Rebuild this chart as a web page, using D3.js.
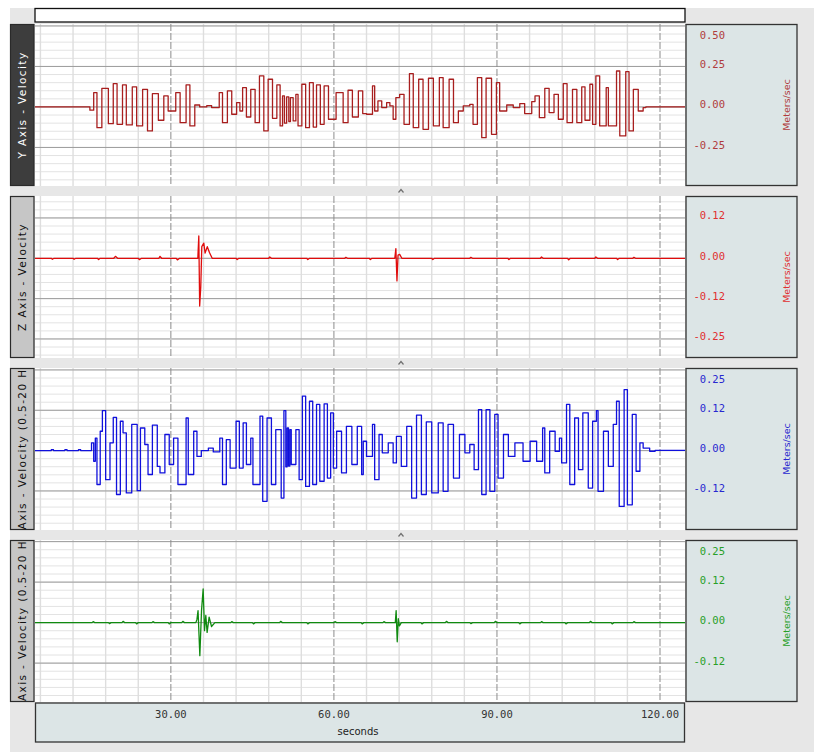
<!DOCTYPE html>
<html>
<head>
<meta charset="utf-8">
<script src="https://cdn.jsdelivr.net/npm/d3@7"></script>
<style>
  body { margin: 0; background: #fff; }
  svg { display: block; }
</style>
</head>
<body>
<svg id="chart" width="814" height="752"></svg>
<script>
// ---- data ----
const timeDomain = [5, 124.6];
const xTicks = [30, 60, 90, 120];
const xTickLabels = ["30.00", "60.00", "90.00", "120.00"];
const xLabel = "seconds";
const unitLabel = "Meters/sec";

const panelTitles = [
  "Y Axis - Velocity",
  "Z Axis - Velocity",
  "Y Axis - Velocity (0.5-20 Hz)",
  "Z Axis - Velocity (0.5-20 Hz)"
];
const panelTicks = [
  [0.5, 0.25, 0, -0.25],
  [0.125, 0, -0.125, -0.25],
  [0.25, 0.125, 0, -0.125],
  [0.25, 0.125, 0, -0.125]
];
const panelTickLabels = [
  ["0.50", "0.25", "0.00", "-0.25"],
  ["0.12", "0.00", "-0.12", "-0.25"],
  ["0.25", "0.12", "0.00", "-0.12"],
  ["0.25", "0.12", "0.00", "-0.12"]
];
const panelDomains = [[-0.488, 0.512], [-0.309, 0.193], [-0.246, 0.256], [-0.245, 0.255]];
const panelMajor = [0.25, 0.125, 0.125, 0.125];

// [seconds, m/s]
const yVelocity = [
  [5,0],[15.1,-0.02],[15.8,0.089],[16.4,-0.128],[17.3,0.115],[18.5,-0.103],[19.4,0.144],[20.1,-0.107],[21.1,0.136],[21.8,-0.111],
  [22.9,0.124],[23.7,-0.117],[24.8,0.109],[25.7,-0.148],[26.6,0.082],[27.7,-0.082],[28.7,0.068],[29.5,-0.025],[30.9,0.089],[31.7,-0.097],
  [32.8,0.136],[33.5,-0.117],[34.4,0.012],[35.3,0],[36.6,0.008],[37.5,-0.004],[38.9,0.089],[39.5,-0.097],[40.4,0.099],[41.2,-0.045],
  [42.1,0.027],[42.7,-0.025],[43.2,0.119],[43.9,-0.062],[44.7,0.109],[45.5,-0.097],[46.3,0.192],[47.1,-0.148],[47.9,0.171],[48.7,-0.070],
  [49.5,0.136],[50.1,-0.117],[50.55,0.068],[50.9,-0.10],[51.3,0.062],[51.7,-0.09],[52.0,0.058],[52.5,-0.086],[53.0,0.078],[53.4,-0.117],
  [54.1,0.140],[54.8,-0.128],[55.5,0.150],[56.2,-0.124],[56.8,0.136],[57.5,-0.107],[58.2,0.130],[59.0,-0.076],[60.4,0.089],[61.7,-0.097],
  [62.6,0.103],[63.4,-0.062],[64.5,0.099],[65.3,-0.041],[66.0,-0.045],[67.1,0.130],[67.5,-0.025],[68.1,0.037],[68.8,-0.004],[69.7,0.027],
  [70.3,0.006],[70.9,-0.076],[71.4,0.058],[72.1,0.078],[72.9,-0.107],[73.9,0.206],[74.6,-0.128],[75.6,0.171],[76.4,-0.138],[77.4,0.177],
  [78.3,-0.117],[79.4,0.181],[80.1,-0.128],[81.2,0.171],[82.0,-0.097],[82.9,-0.025],[83.8,0.006],[85.0,0.016],[85.6,-0.107],[86.4,0.181],
  [87.2,-0.190],[88.0,0.177],[89.0,-0.169],[89.9,0.150],[90.5,-0.025],[91.8,0.012],[93.0,-0.004],[94.2,0.021],[95.1,-0.041],[96.4,0.033],
  [97.0,0.068],[97.8,-0.066],[98.8,0.115],[99.6,-0.035],[100.5,0.078],[101.3,-0.076],[102.2,0.144],[102.9,-0.097],[103.9,0.109],[104.7,-0.097],
  [105.6,0.124],[106.2,-0.082],[107.1,0.140],[107.6,-0.107],[108.2,0.192],[108.9,-0.117],[110.1,0.119],[110.5,-0.117],[112.0,0.222],[112.6,-0.179],
  [113.7,0.218],[114.3,-0.148],[115.1,0.109],[116.0,-0.025],[116.9,-0.004],[117.4,0],[124.6,0]
];

const zVelocity = [
  [5,0],[8,0],[8.2,-0.003],[8.5,0],[12,0],[12.2,-0.003],[12.5,0],[16.5,0],[16.7,-0.004],[17,0],
  [19.5,0],[19.8,0.006],[20.2,0],[24,0],[24.2,-0.004],[24.6,0],[27.8,0],[28,0.006],[28.3,0],[31,0],
  [31.2,-0.005],[31.6,0],[34.96,0],[35.14,0.069],[35.3,-0.148],[35.5,-0.09],[35.69,0.036],[36.06,0.047],[36.3,0.016],[36.7,0.036],
  [37.1,0.018],[37.6,0],[42,0],[42.2,-0.004],[42.5,0],[48,0],[48.2,0.004],[48.5,0],[55,0],[55.2,-0.004],
  [55.5,0],[62,0],[62.2,0.003],[62.5,0],[66.5,0],[66.7,-0.004],[67,0],[71.2,0],[71.4,0.03],[71.6,-0.07],
  [71.8,0.01],[72.1,0.012],[72.5,0],[78,0],[78.2,-0.004],[78.5,0],[85,0],[85.2,0.003],[85.5,0],[92,0],
  [92.2,-0.004],[92.5,0],[98,0],[98.2,0.004],[98.5,0],[103,0],[103.2,-0.005],[103.5,0],[108,0],[108.2,0.004],
  [108.5,0],[112,0],[112.2,-0.004],[112.5,0],[115,0],[115.2,0.003],[115.5,0],[124.6,0]
];

const yFiltered = [
  [5,0],[8.0,0.003],[8.4,0],[10.5,0.003],[10.9,0],[13,0.003],[13.4,0],
  [15.4,0.024],[15.8,-0.033],[16.1,0.039],[16.4,-0.105],[17.0,0.060],[17.4,0.124],[18.0,-0.090],[18.8,0.024],[19.4,0.103],
  [20.0,-0.136],[20.7,0.091],[21.2,0.055],[21.8,-0.131],[22.8,0.081],[23.8,-0.124],[24.4,0.070],[25.2,0.019],[25.8,-0.074],[26.6,0.079],
  [27.5,-0.049],[28.0,-0.069],[28.9,0.050],[29.7,-0.043],[30.5,0.039],[31.3,-0.105],[32.8,0.101],[33.2,-0.074],[34.2,0.060],[34.8,-0.018],
  [35.6,0],[36.9,0.008],[37.8,-0.004],[39.0,0.039],[39.5,-0.105],[40.2,0.034],[40.9,-0.054],[42.0,0.091],[42.6,-0.054],[43.3,0.086],
  [43.9,-0.043],[44.7,0.039],[45.1,-0.105],[46.4,0.107],[46.9,-0.157],[47.7,0.101],[48.5,-0.105],[49.3,0.065],[50.3,-0.147],[50.8,0.124],
  [51.15,-0.05],[51.4,0.07],[51.65,-0.048],[51.9,0.065],[52.15,-0.043],[53.0,0.065],[53.6,-0.090],[54.2,0.169],[54.8,-0.111],[55.5,0.153],
  [56.1,-0.105],[56.8,0.143],[57.4,-0.095],[58.2,0.145],[58.8,-0.085],[59.4,0.117],[59.9,-0.054],[60.5,0.060],[61.4,-0.069],[62.3,0.075],
  [63.3,-0.043],[64.3,0.075],[65.1,-0.074],[65.4,0.029],[66.0,-0.018],[67.1,0.081],[67.5,-0.090],[68.3,0.050],[68.9,-0.007],[70.0,0.024],
  [70.9,-0.038],[71.5,0.044],[72.4,-0.049],[73.4,0.075],[74.3,-0.147],[75.2,0.110],[76.1,-0.136],[77.0,0.089],[78.0,-0.131],[79.2,0.086],
  [80.1,-0.126],[81.0,0.081],[82.0,-0.085],[83.1,0.050],[84.1,-0.007],[85.0,0.019],[85.8,-0.059],[86.6,0.127],[87.2,-0.136],[88.0,0.127],
  [88.7,-0.126],[89.6,0.112],[90.2,-0.085],[91.2,0.050],[92.1,-0.018],[93.3,0.024],[94.8,-0.033],[96.1,0.029],[97.3,-0.033],[98.4,0.070],
  [98.8,-0.069],[99.7,0.060],[100.7,-0.002],[101.5,0.039],[101.9,-0.038],[102.8,0.143],[103.4,-0.105],[104.3,0.101],[105.0,-0.059],[105.8,0.117],
  [106.8,-0.116],[107.6,0.091],[108.3,0.124],[108.6,-0.126],[109.6,0.060],[110.5,-0.049],[111.4,0.081],[112.0,0.153],[112.5,-0.173],[113.4,0.189],
  [114.0,-0.168],[114.9,0.112],[115.6,-0.064],[116.3,0.024],[116.9,0.008],[118.1,-0.002],[119.1,0.001],[124.6,0.001]
];

const zFiltered = [
  [5,0],[15.5,0],[15.7,0.003],[16.0,0],[18.5,0],[18.7,-0.003],[19.0,0],[21,0],[21.2,0.004],[21.5,0],
  [23.5,0],[23.7,-0.004],[24,0],[26.5,0],[26.7,0.003],[27,0],[29.5,0],[29.7,-0.004],[30,0],[32,0],
  [32.2,0.004],[32.5,0],[34.6,0],[34.8,0.01],[35.0,0.037],[35.33,-0.102],[35.64,0.037],[35.94,0.104],[36.19,-0.025],[36.43,0.022],
  [36.67,-0.030],[37.04,0.017],[37.48,-0.012],[38.1,0],[41,0],[41.2,0.003],[41.5,0],[45,0],[45.2,-0.004],[45.5,0],
  [50,0],[50.2,0.004],[50.5,0],[55,0],[55.2,-0.004],[55.5,0],[60,0],[60.2,0.003],[60.5,0],[65,0],
  [65.2,-0.004],[65.5,0],[69,0],[69.2,0.003],[69.5,0],[71.3,0],[71.45,0.037],[71.65,-0.059],[71.85,0.012],[72.05,-0.01],
  [72.4,0],[76,0],[76.2,-0.004],[76.5,0],[80.5,0],[80.7,0.004],[81,0],[85,0],[85.2,-0.003],[85.5,0],
  [89.5,0],[89.7,0.004],[90,0],[94,0],[94.2,-0.004],[94.5,0],[98,0],[98.2,0.003],[98.5,0],[102.5,0],
  [102.7,-0.004],[103,0],[107,0],[107.2,0.004],[107.5,0],[111,0],[111.2,-0.004],[111.5,0],[115,0],[115.2,0.003],
  [115.5,0],[124.6,0]
];

const panelSeries = [yVelocity, zVelocity, yFiltered, zFiltered];

// ---- styling / layout ----
const traceColors = ["#a81e1e", "#e00c0c", "#1010dc", "#108a10"];
const tickColors = ["#b03c3c", "#e03030", "#2828d0", "#28a028"];
const titleBoxFill = ["#3d3d3d", "#c6c6c6", "#c6c6c6", "#c6c6c6"];
const titleTextFill = ["#ffffff", "#111111", "#111111", "#111111"];
// the broadband traces are sample-and-hold looking, the Z ones are spiky
const panelCurves = [d3.curveStepAfter, d3.curveLinear, d3.curveStepAfter, d3.curveLinear];

const width = 814, height = 752;
const plotLeft = 35, plotRight = 685;
const firstTop = 24, panelHeight = 162, panelStep = 172;
const axisBoxX = 686, axisBoxW = 111;
const monoFont = "'DejaVu Sans Mono', 'Liberation Mono', monospace";
const sansFont = "'DejaVu Sans', Verdana, sans-serif";

const svg = d3.select("#chart");
const xScale = d3.scaleLinear().domain(timeDomain).range([plotLeft, plotRight]);

svg.append("rect").attr("width", width).attr("height", height).attr("fill", "#ffffff");
svg.append("rect")
  .attr("x", 10).attr("y", 8)
  .attr("width", width - 10).attr("height", height - 8)
  .attr("fill", "#e7e7e7");

// empty white strip above the traces
svg.append("rect")
  .attr("x", plotLeft).attr("y", 8.5)
  .attr("width", plotRight - plotLeft).attr("height", 13.5)
  .attr("fill", "#fff").attr("stroke", "#111").attr("stroke-width", 1.3);

panelTitles.forEach((title, i) => drawPanel(i));
drawTimeAxis();

function drawPanel(i) {
  const top = firstTop + i * panelStep;
  const bottom = top + panelHeight;
  const domain = panelDomains[i];
  const yScale = d3.scaleLinear().domain(domain).range([bottom, top]);
  const g = svg.append("g");

  g.append("rect")
    .attr("x", plotLeft).attr("y", top)
    .attr("width", plotRight - plotLeft).attr("height", panelHeight)
    .attr("fill", "#fff");

  // minor grid
  const minorStep = panelMajor[i] / 5;
  const hMinor = d3.range(Math.ceil(domain[0] / minorStep), Math.floor(domain[1] / minorStep) + 1)
    .map(k => k * minorStep);
  g.append("g").selectAll("line").data(hMinor).join("line")
    .attr("x1", plotLeft).attr("x2", plotRight)
    .attr("y1", d => yScale(d)).attr("y2", d => yScale(d))
    .attr("stroke", "#e3e3e3").attr("stroke-width", 1);

  const vMinor = d3.range(6, timeDomain[1], 6).filter(t => t % 30 !== 0);
  g.append("g").selectAll("line").data(vMinor).join("line")
    .attr("x1", d => xScale(d)).attr("x2", d => xScale(d))
    .attr("y1", top).attr("y2", bottom)
    .attr("stroke", "#dedede").attr("stroke-width", 1.4);

  // major grid
  g.append("g").selectAll("line").data(panelTicks[i]).join("line")
    .attr("x1", plotLeft).attr("x2", plotRight)
    .attr("y1", d => yScale(d)).attr("y2", d => yScale(d))
    .attr("stroke", "#9c9c9c").attr("stroke-width", 1);

  g.append("g").selectAll("line").data(xTicks).join("line")
    .attr("x1", d => xScale(d)).attr("x2", d => xScale(d))
    .attr("y1", top).attr("y2", bottom)
    .attr("stroke", "#8c8c8c").attr("stroke-width", 1)
    .attr("stroke-dasharray", "7,2");

  // trace
  const clipId = `plot-clip-${i}`;
  svg.append("clipPath").attr("id", clipId)
    .append("rect")
    .attr("x", plotLeft).attr("y", top)
    .attr("width", plotRight - plotLeft).attr("height", panelHeight);

  const line = d3.line()
    .x(d => xScale(d[0]))
    .y(d => yScale(d[1]))
    .curve(panelCurves[i]);

  g.append("path")
    .datum(panelSeries[i])
    .attr("clip-path", `url(#${clipId})`)
    .attr("d", line)
    .attr("fill", "none")
    .attr("stroke", traceColors[i])
    .attr("stroke-width", 1.3)
    .attr("stroke-linejoin", "round");

  // title box on the left
  const titleClip = `title-clip-${i}`;
  svg.append("clipPath").attr("id", titleClip)
    .append("rect").attr("x", 10).attr("y", top).attr("width", 24).attr("height", panelHeight);

  g.append("rect")
    .attr("x", 10.5).attr("y", top + 0.5)
    .attr("width", 23.5).attr("height", panelHeight - 1)
    .attr("fill", titleBoxFill[i]).attr("stroke", "#2a2a2a").attr("stroke-width", 1.2);

  g.append("g").attr("clip-path", `url(#${titleClip})`)
    .append("text")
    .attr("transform", `translate(22, ${top + panelHeight / 2}) rotate(-90)`)
    .attr("text-anchor", "middle")
    .attr("dominant-baseline", "central")
    .attr("font-family", sansFont)
    .attr("font-size", 10.5)
    .attr("letter-spacing", 1.4)
    .attr("fill", titleTextFill[i])
    .text(panelTitles[i]);

  // value axis box on the right
  g.append("rect")
    .attr("x", axisBoxX).attr("y", top + 0.5)
    .attr("width", axisBoxW).attr("height", panelHeight - 1)
    .attr("fill", "#dce5e6").attr("stroke", "#333").attr("stroke-width", 1.3);

  g.append("g").selectAll("text").data(panelTicks[i]).join("text")
    .attr("x", 725)
    .attr("y", d => Math.max(yScale(d) - 2.5, top + 10.5))
    .attr("text-anchor", "end")
    .attr("dominant-baseline", "central")
    .attr("font-family", monoFont)
    .attr("font-size", 10.5)
    .attr("fill", tickColors[i])
    .text((d, k) => panelTickLabels[i][k]);

  g.append("text")
    .attr("transform", `translate(786, ${top + panelHeight / 2}) rotate(-90)`)
    .attr("text-anchor", "middle")
    .attr("dominant-baseline", "central")
    .attr("font-family", sansFont)
    .attr("font-size", 9.5)
    .attr("fill", tickColors[i])
    .text(unitLabel);

  // splitter grip between panels
  if (i < panelTitles.length - 1) {
    g.append("path")
      .attr("transform", `translate(401, ${bottom + 5})`)
      .attr("d", "M-2.5,1.5 L0,-1.5 L2.5,1.5")
      .attr("fill", "none").attr("stroke", "#707070").attr("stroke-width", 1.2);
  }
}

function drawTimeAxis() {
  const top = firstTop + 3 * panelStep + panelHeight + 1;
  const g = svg.append("g");
  g.append("rect")
    .attr("x", plotLeft + 0.5).attr("y", top)
    .attr("width", plotRight - plotLeft - 1).attr("height", 39)
    .attr("fill", "#dce5e6").attr("stroke", "#333").attr("stroke-width", 1.3);

  g.selectAll(".tick").data(xTicks).join("text")
    .attr("x", d => xScale(d))
    .attr("y", top + 11)
    .attr("text-anchor", "middle")
    .attr("dominant-baseline", "central")
    .attr("font-family", monoFont)
    .attr("font-size", 10.5)
    .attr("fill", "#333")
    .text((d, k) => xTickLabels[k]);

  g.append("text")
    .attr("x", 358).attr("y", top + 28)
    .attr("text-anchor", "middle")
    .attr("dominant-baseline", "central")
    .attr("font-family", sansFont)
    .attr("font-size", 10)
    .attr("fill", "#222")
    .text(xLabel);
}
</script>
</body>
</html>
